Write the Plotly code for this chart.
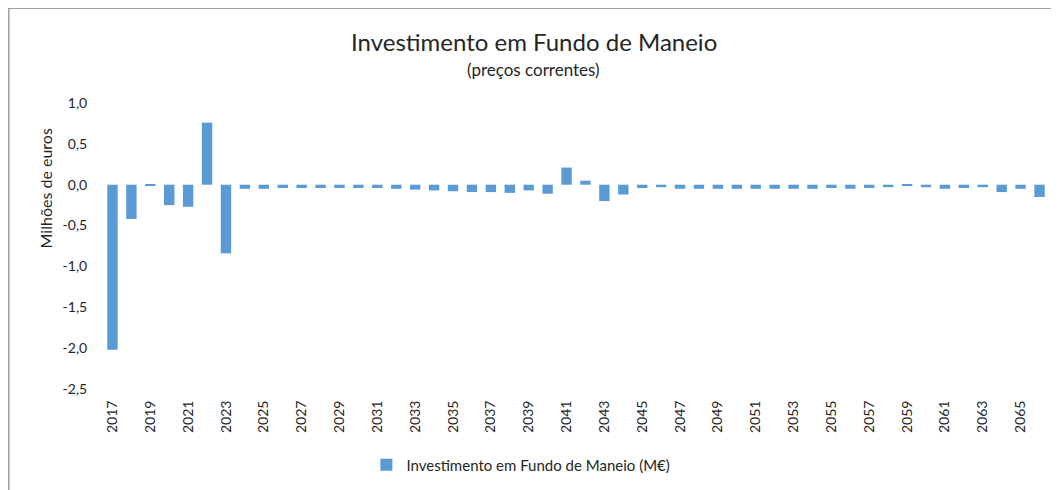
import plotly.graph_objects as go

years = [str(y) for y in range(2017, 2067)]
values = [
    -2.02, -0.42, -0.01, -0.25, -0.27, 0.76, -0.84, -0.05, -0.05, -0.04,
    -0.04, -0.04, -0.04, -0.04, -0.04, -0.05, -0.06, -0.07, -0.08, -0.09,
    -0.09, -0.10, -0.07, -0.11, 0.21, 0.05, -0.20, -0.12, -0.04, -0.03,
    -0.05, -0.05, -0.05, -0.05, -0.05, -0.05, -0.05, -0.05, -0.04, -0.05,
    -0.04, -0.03, -0.01, -0.03, -0.05, -0.04, -0.03, -0.09, -0.05, -0.15,
]
ytick_vals = [1.0, 0.5, 0.0, -0.5, -1.0, -1.5, -2.0, -2.5]
ytick_text = ["1,0", "0,5", "0,0", "-0,5", "-1,0", "-1,5", "-2,0", "-2,5"]
xtick_labels = years[::2]

title_text = "Investimento em Fundo de Maneio"
subtitle_text = "(preços correntes)"
ytitle_text = "Milhões de euros"
series_name = "Investimento em Fundo de Maneio (M€)"
font_family = "Lato, 'Open Sans', sans-serif"
text_color = "#262626"

fig = go.Figure()
fig.add_trace(go.Bar(
    x=years, y=values, name=series_name,
    marker=dict(color="#5B9BD5", line=dict(width=0)),
    showlegend=True,
))

fig.update_layout(
    width=1051, height=482,
    paper_bgcolor="white", plot_bgcolor="white",
    margin=dict(l=94.5, r=9.5, t=95, b=101, autoexpand=False),
    bargap=0.45,
    font=dict(family=font_family, color=text_color, size=14),
    legend=dict(
        orientation="h", xref="container", x=0.488, xanchor="center",
        y=-0.266, yanchor="middle",
        font=dict(size=15), itemwidth=30,
    ),
    xaxis=dict(
        type="category", tickangle=-90,
        tickvals=xtick_labels, ticktext=xtick_labels,
        showgrid=False, showline=False, zeroline=False,
        ticks="outside", ticklen=5, tickcolor="rgba(0,0,0,0)",
        tickfont=dict(size=14),
    ),
    yaxis=dict(
        range=[-2.5, 1.0], tickvals=ytick_vals, ticktext=ytick_text,
        showgrid=False, showline=False, zeroline=False,
        ticks="outside", ticklen=12, tickcolor="rgba(0,0,0,0)",
        tickfont=dict(size=14),
    ),
    annotations=[
        dict(text=title_text, xref="paper", x=0.4551, xanchor="center",
             yref="paper", y=1.2133, yanchor="middle", showarrow=False,
             font=dict(size=24, color=text_color)),
        dict(text=subtitle_text, xref="paper", x=0.4551, xanchor="center",
             yref="paper", y=1.1154, yanchor="middle", showarrow=False,
             font=dict(size=17, color=text_color)),
        dict(text=ytitle_text, xref="paper", x=-0.0607, xanchor="center",
             yref="paper", y=0.70, yanchor="middle", textangle=-90,
             showarrow=False, font=dict(size=16, color=text_color)),
    ],
    shapes=[
        dict(type="line", xref="paper", yref="paper",
             x0=-0.0998, x1=1.02, y0=1.332, y1=1.332,
             line=dict(color="#a0a0a0", width=2)),
        dict(type="line", xref="paper", yref="paper",
             x0=-0.0998, x1=-0.0998, y0=1.332, y1=-0.4,
             line=dict(color="#a0a0a0", width=2)),
    ],
)

fig.write_html("out.html")
